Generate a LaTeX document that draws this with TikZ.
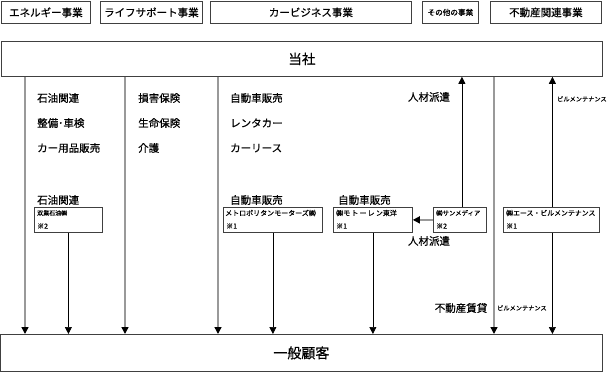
\documentclass[tikz,border=0pt]{standalone}
\usepackage{fontspec}
\setmainfont[FakeBold=0.6]{Noto Sans CJK JP}
\usetikzlibrary{arrows.meta}
\begin{document}
\begin{tikzpicture}[x=1pt,y=-1pt,
  bx/.style={draw=black!75,line width=0.8pt,inner sep=0pt,anchor=north west},
  lbl/.style={inner sep=0pt,font=\fontsize{10.5}{12}\selectfont},
  lblw/.style={lbl,anchor=west},
  tiny/.style={inner sep=0pt,anchor=west,font=\fontsize{6.2}{7}\selectfont},
  inbox/.style={inner sep=0pt,anchor=west},
  kome/.style={inner sep=0pt,anchor=west,font=\fontsize{7}{8}\selectfont},
  tip/.style={-{Triangle[width=7pt,length=7pt,color=black]}},
  gline/.style={tip,draw=black!40,line width=1.4pt},
  bline/.style={tip,draw=black,line width=0.7pt}]
\useasboundingbox (0,0) rectangle (608,372);
% top business boxes
\node[bx,minimum width=89pt,minimum height=22pt] (b1) at (1,1) {};
\node[lbl] at (b1.center) {エネルギー事業};
\node[bx,minimum width=102pt,minimum height=22pt] (b2) at (100,1) {};
\node[lbl] at (b2.center) {ライフサポート事業};
\node[bx,minimum width=201pt,minimum height=22pt] (b3) at (210,1) {};
\node[lbl] at (b3.center) {カービジネス事業};
\node[bx,minimum width=56pt,minimum height=22pt] (b4) at (422,1) {};
\node[inner sep=0pt,font=\fontsize{7.6}{9}\selectfont] at (b4.center) {その他の事業};
\node[bx,minimum width=111pt,minimum height=22pt] (b5) at (490,1) {};
\node[lbl] at (b5.center) {不動産関連事業};
% main boxes
\node[bx,minimum width=601pt,minimum height=35pt] (tosha) at (1,41) {};
\node[inner sep=0pt,font=\fontsize{13.5}{15}\selectfont] at (tosha.center) {当社};
\node[bx,minimum width=602pt,minimum height=37pt] (kokyaku) at (0,334) {};
\node[inner sep=0pt,font=\fontsize{14}{16}\selectfont] at (kokyaku.center) {一般顧客};
% x positions
\coordinate (v1) at (25,0);
\coordinate (v2) at (125,0);
\coordinate (v3) at (218,0);
\coordinate (v4) at (494,0);
% column texts
\node[lblw] at (37,98) {石油関連};
\node[lblw] at (37,123) {整備･車検};
\node[lblw] at (37,148) {カー用品販売};
\node[lblw] at (138,98) {損害保険};
\node[lblw] at (138,123) {生命保険};
\node[lblw] at (138,148) {介護};
\node[lblw] at (230,98) {自動車販売};
\node[lblw] at (230,123) {レンタカー};
\node[lblw] at (230,148) {カーリース};
\node[lblw] at (37,200) {石油関連};
\node[lblw] at (230,200) {自動車販売};
\node[lblw] at (338,200) {自動車販売};
\node[lbl] at (429,97) {人材派遣};
\node[lbl] at (429,241) {人材派遣};
\node[lbl] at (461,308) {不動産賃貸};
\node[tiny] at (497,308) {ビルメンテナンス};
\node[tiny] at (557,99) {ビルメンテナンス};
% subsidiary boxes
\node[bx,minimum width=68pt,minimum height=25pt] (soyo) at (34,207) {};
\node[inbox,font=\fontsize{6}{7}\selectfont] at ([shift={(3,6)}]soyo.north west) {双業石油㈱};
\node[kome] at ([shift={(3,19)}]soyo.north west) {※2};
\node[bx,minimum width=99pt,minimum height=25pt] (metro) at (223,207) {};
\node[inbox,font=\fontsize{7}{8}\selectfont] at ([shift={(2,6)}]metro.north west) {メトロポリタンモーターズ㈱};
\node[kome] at ([shift={(3,19)}]metro.north west) {※1};
\node[bx,minimum width=79pt,minimum height=25pt] (moto) at (333,207) {};
\node[inbox,font=\fontsize{7}{8}\selectfont] at ([shift={(3,6)}]moto.north west) {㈱モ\,ト\,ー\,レ\,ン東洋};
\node[kome] at ([shift={(3,19)}]moto.north west) {※1};
\node[bx,minimum width=53pt,minimum height=25pt] (sun) at (433,207) {};
\node[inbox,font=\fontsize{6.4}{7}\selectfont] at ([shift={(3,6)}]sun.north west) {㈱サンメディア};
\node[kome] at ([shift={(3,19)}]sun.north west) {※2};
\node[bx,minimum width=96pt,minimum height=25pt] (ace) at (503,207) {};
\node[inbox,font=\fontsize{6.9}{8}\selectfont] at ([shift={(3,6)}]ace.north west) {㈱エース・ビルメンテナンス};
\node[kome] at ([shift={(3,19)}]ace.north west) {※1};
% gray lines from 当社 to 一般顧客
\draw[gline] (tosha.south -| v1) -- (kokyaku.north -| v1);
\draw[gline] (tosha.south -| v2) -- (kokyaku.north -| v2);
\draw[gline] (tosha.south -| v3) -- (kokyaku.north -| v3);
\draw[gline] (tosha.south -| v4) -- (kokyaku.north -| v4);
% subsidiary arrows
\draw[bline] (soyo.south) -- (soyo.south |- kokyaku.north);
\draw[bline] (metro.south) -- (metro.south |- kokyaku.north);
\draw[bline] (moto.south) -- (moto.south |- kokyaku.north);
\draw[bline] ([xshift=2pt]sun.north) -- ([xshift=2pt]sun.north |- tosha.south);
\draw[gline] (sun.west) -- (moto.east);
\draw[bline] ([xshift=1pt]ace.north) -- ([xshift=1pt]ace.north |- tosha.south);
\draw[bline] ([xshift=1pt]ace.south) -- ([xshift=1pt]ace.south |- kokyaku.north);
\end{tikzpicture}
\end{document}
